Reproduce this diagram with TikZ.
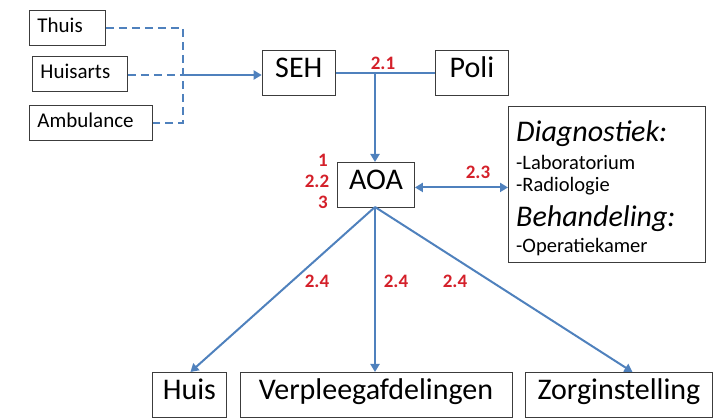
\documentclass[tikz,border=0pt]{standalone}
\usepackage{fontspec}
\setmainfont{Carlito}
\usetikzlibrary{arrows.meta,calc}
\definecolor{arrowblue}{RGB}{79,129,189}
\definecolor{labelred}{RGB}{212,32,42}
\definecolor{boxgray}{RGB}{60,60,60}
\begin{document}
\begin{tikzpicture}[x=1pt,y=-1pt,
  box/.style={draw=boxgray,line width=0.9pt,inner sep=0pt,anchor=north west,text height=0.9em,text depth=0pt},
  smallbox/.style={box,font=\fontsize{21}{24}\selectfont,align=left,inner xsep=8pt,minimum height=35pt},
  bigbox/.style={box,font=\fontsize{30}{34}\selectfont,minimum height=45pt},
  lbl/.style={text=labelred,font=\fontsize{19}{21}\selectfont\bfseries,inner sep=0pt},
  dtxt/.style={anchor=base west,inner sep=0pt,font=\fontsize{20.5}{24}\selectfont},
  dhead/.style={anchor=base west,inner sep=0pt,font=\fontsize{30}{34}\selectfont\itshape},
  conn/.style={draw=arrowblue,line width=2pt},
  tip/.style={-{Triangle[length=8pt,width=9pt]}},
  dashline/.style={draw=arrowblue,line width=1.8pt,dash pattern=on 8pt off 5pt}
]
\useasboundingbox (0,0) rectangle (715,419);

% sources
\node[smallbox,text width=60pt] (th) at (29,10) {Thuis};
\node[smallbox,text width=79pt] (ha) at (32,56) {Huisarts};
\node[smallbox,text width=107pt] (amb) at (29,105) {Ambulance};

% main boxes
\node[bigbox,minimum width=73.3pt] (seh) at (261.7,50) {SEH};
\node[bigbox,minimum width=73pt] (poli) at (435,50) {Poli};
\node[bigbox,minimum width=77pt] (aoa) at (337,162) {AOA};

% diagnostics box
\node[box,minimum width=197pt,minimum height=156pt] (diag) at (508,106) {};
\node[dhead] (dg) at (516,141.5) {Diagnostiek:};
\node[dtxt] (lab) at (516,169.3) {-Laboratorium};
\node[dtxt] (rad) at (516,192) {-Radiologie};
\node[dhead] (bh) at (516,226.5) {Behandeling:};
\node[dtxt] (ok) at (516,253) {-Operatiekamer};

% destinations
\node[bigbox,minimum width=74pt] (huis) at (152,372) {Huis};
\node[bigbox,minimum width=272pt] (vp) at (239.5,372) {Verpleegafdelingen};
\node[bigbox,minimum width=187pt] (zorg) at (525,372) {Zorginstelling};

% junctions
\coordinate (j) at (183,75);
\coordinate (k) at (375,73);

% dashed inflow
\draw[dashline] (th.east) -- (th.east -| j) -- (amb.east -| j) -- (amb.east);
\draw[dashline] (ha.east |- j) -- (j);
\draw[conn,tip] (j) -- (j -| seh.west);

% SEH - Poli
\draw[conn] (seh.east |- k) -- (poli.west |- k);
\draw[conn,tip] (k) -- (k |- aoa.north);

% AOA <-> diag
\draw[conn,{Triangle[length=8pt,width=9pt]}-{Triangle[length=8pt,width=9pt]}] ([yshift=-2.5pt]aoa.east) -- ([yshift=-2.5pt]aoa.east -| diag.west);

% outflows
\coordinate (ab) at (375,207);
\draw[conn,tip] (ab) -- ([xshift=1pt]huis.north);
\draw[conn,tip] (ab) -- (ab |- vp.north);
\draw[conn,tip] (ab) -- ([xshift=13.5pt]zorg.north);

% labels
\node[lbl] (l21) at (383,63) {2.1};
\node[lbl] (l1) at (323,160) {1};
\node[lbl] (l22) at (317,181) {2.2};
\node[lbl] (l3) at (323,202) {3};
\node[lbl] (l23) at (478,172) {2.3};
\node[lbl] (l24a) at (317,281) {2.4};
\node[lbl] (l24b) at (396,281) {2.4};
\node[lbl] (l24c) at (455,281) {2.4};
\end{tikzpicture}
\end{document}
